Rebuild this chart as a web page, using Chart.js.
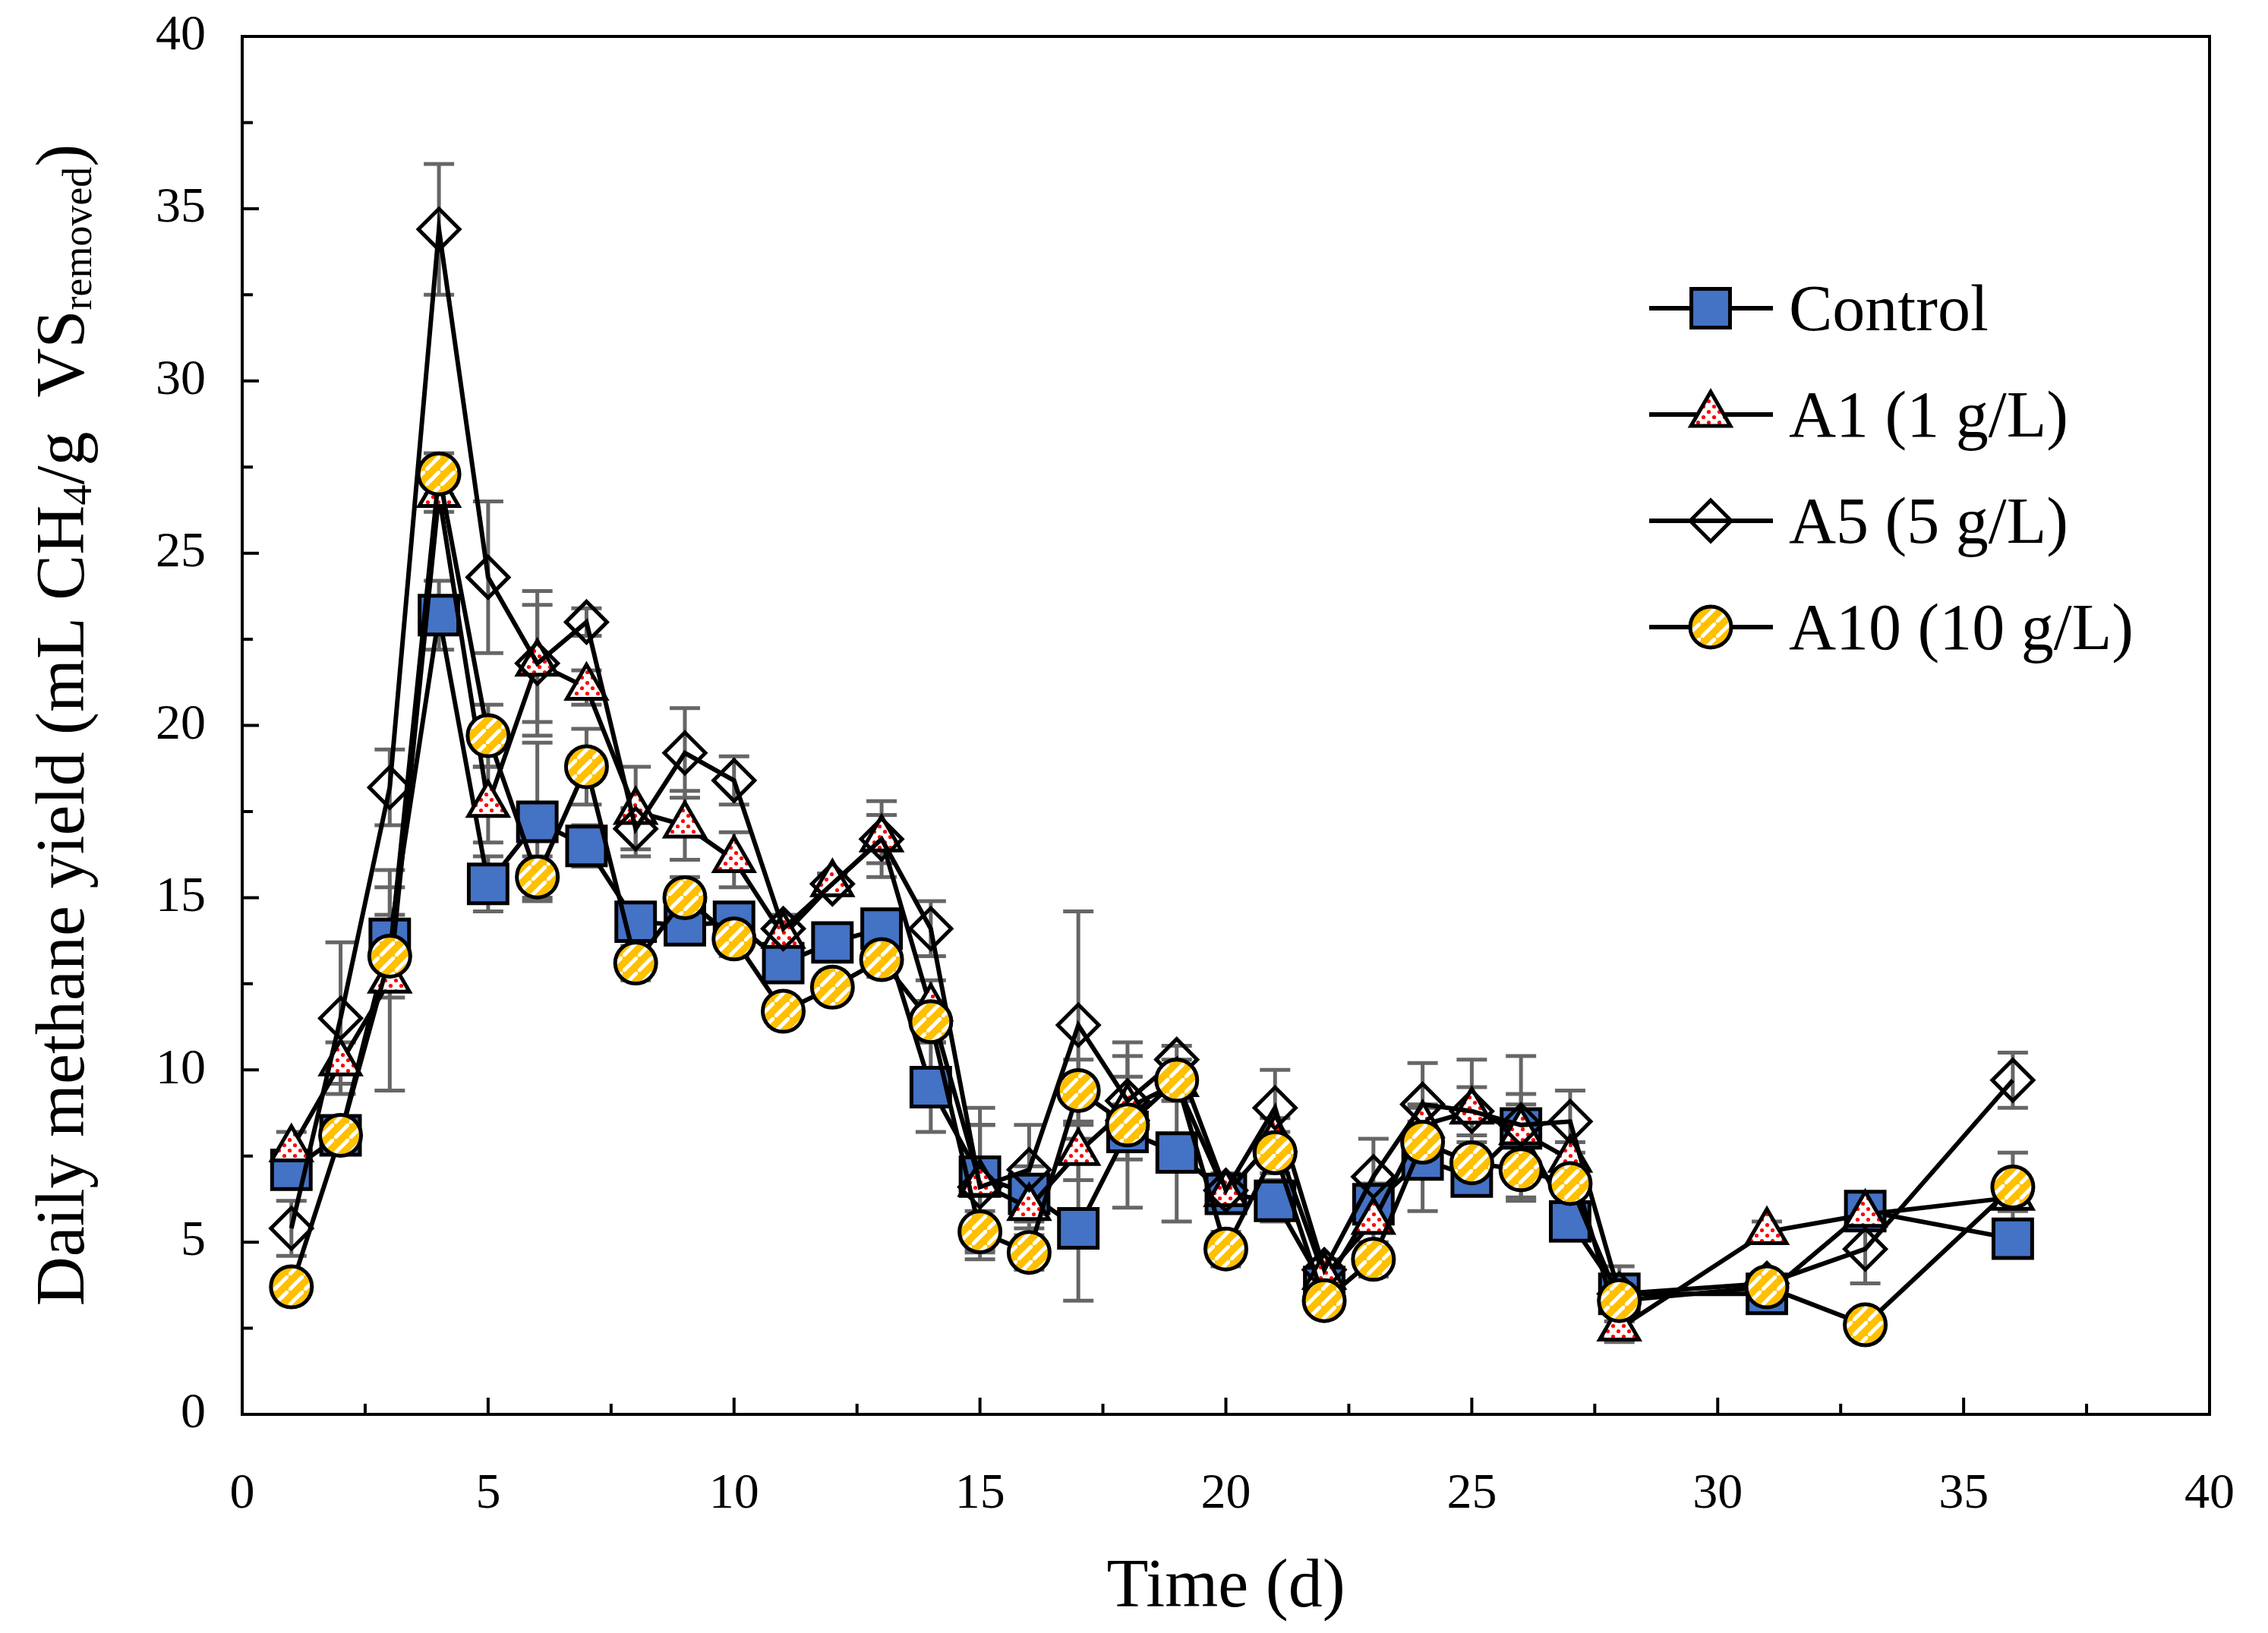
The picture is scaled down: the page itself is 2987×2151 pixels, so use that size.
<!DOCTYPE html>
<html lang="en">
<head>
  <meta charset="UTF-8">
  <title>Daily methane yield</title>
  <script src="https://cdn.jsdelivr.net/npm/chart.js"></script>
  <style>
    html, body { margin: 0; padding: 0; background: #fff; }
    canvas { display: block; }
  </style>
</head>
<body>
  <canvas id="yieldChart" width="2987" height="2151"></canvas>
  <script>
    // Time points (d)
    const days = [1, 2, 3, 4, 5, 6, 7, 8, 9, 10, 11, 12, 13, 14, 15, 16, 17, 18, 19, 20,
                  21, 22, 23, 24, 25, 26, 27, 28, 31, 33, 36];

    // Daily methane yield, mL CH4/g VS removed
    const control = [7.1, 8.1, 13.8, 23.2, 15.4, 17.2, 16.5, 14.3, 14.2, 14.3, 13.1, 13.7, 14.1, 9.5, 6.9, 6.4,
                     5.4, 8.2, 7.6, 6.4, 6.2, 3.7, 6.1, 7.4, 6.9, 8.3, 5.6, 3.5, 3.5, 5.9, 5.1];
    const a1 = [7.7, 10.2, 12.6, 26.7, 17.7, 21.8, 21.1, 17.5, 17.1, 16.1, 13.9, 15.4, 16.7, 11.8, 6.7, 6.0,
                7.6, 8.9, 9.6, 6.4, 8.0, 4.0, 5.6, 8.4, 8.8, 8.2, 7.4, 2.5, 5.3, 5.8, 6.3];
    const a5 = [5.4, 11.5, 18.2, 34.4, 24.3, 21.8, 23.0, 17.0, 19.2, 18.4, 14.1, 15.4, 16.7, 14.1, 6.6, 7.1,
                11.3, 9.1, 10.3, 6.5, 8.9, 4.2, 6.9, 9.0, 8.8, 8.4, 8.5, 3.5, 3.8, 4.8, 9.7];
    const a10 = [3.7, 8.1, 13.3, 27.3, 19.7, 15.6, 18.8, 13.1, 15.0, 13.8, 11.7, 12.4, 13.2, 11.4, 5.3, 4.7,
                 9.4, 8.4, 9.7, 4.8, 7.6, 3.3, 4.5, 7.9, 7.3, 7.1, 6.7, 3.3, 3.7, 2.6, 6.6];

    // Standard deviations (error bars)
    const controlErr = [0.5, 0.3, 1.5, 1.0, 0.8, 2.3, 0.6, 0.5, 0.4, 0.5, 0.4, 0.3, 0.4, 1.3, 1.5, 0.8,
                        2.1, 0.8, 2.0, 0.5, 0.6, 0.3, 0.6, 1.5, 0.5, 2.1, 0.5, 0.8, 0.3, 0.3, 0.4];
    const a1Err = [0.5, 0.6, 3.2, 0.5, 1.1, 1.7, 0.5, 1.3, 1.0, 0.8, 0.4, 0.3, 0.7, 0.8, 2.2, 0.6,
                   0.8, 0.9, 0.5, 0.5, 0.6, 0.3, 0.7, 0.6, 0.7, 0.8, 0.5, 0.4, 0.3, 0.3, 0.4];
    const a5Err = [0.8, 2.2, 1.1, 1.9, 2.2, 2.1, 0.4, 0.6, 1.3, 0.7, 0.4, 0.3, 1.1, 0.8, 1.8, 1.3,
                   3.3, 1.3, 0.4, 0.5, 1.1, 0.3, 1.1, 1.2, 1.5, 0.9, 0.9, 0.4, 0.3, 1.0, 0.8];
    const a10Err = [0.4, 0.4, 1.2, 0.6, 0.9, 0.6, 1.1, 0.5, 0.6, 0.5, 0.4, 0.4, 0.5, 0.6, 0.6, 0.5,
                    0.9, 2.4, 0.6, 0.5, 0.6, 0.3, 0.5, 0.6, 0.6, 0.8, 0.6, 0.4, 0.3, 0.3, 1.0];

    const seriesNames = ['Control', 'A1 (1 g/L)', 'A5 (5 g/L)', 'A10 (10 g/L)'];
    const xTicks = [0, 5, 10, 15, 20, 25, 30, 35, 40];
    const yTicks = [0, 5, 10, 15, 20, 25, 30, 35, 40];

    const FONT = '"Liberation Serif", "Times New Roman", serif';
    const canvas = document.getElementById('yieldChart');
    const ctx = canvas.getContext('2d');

    // fill patterns for the markers
    function dotPattern() {
      const c = document.createElement('canvas');
      c.width = 14; c.height = 14;
      const g = c.getContext('2d');
      g.fillStyle = '#ffffff';
      g.fillRect(0, 0, 14, 14);
      g.fillStyle = '#ff0000';
      [[3.5, 3.5], [10.5, 10.5]].forEach(p => {
        g.beginPath(); g.arc(p[0], p[1], 2.6, 0, Math.PI * 2); g.fill();
      });
      return ctx.createPattern(c, 'repeat');
    }
    function stripePattern() {
      const s = 20;
      const c = document.createElement('canvas');
      c.width = s; c.height = s;
      const g = c.getContext('2d');
      g.fillStyle = '#ffc000';
      g.fillRect(0, 0, s, s);
      g.strokeStyle = '#ffffff';
      g.lineWidth = 5;
      [[-s, s], [0, 0], [s, -s]].forEach(o => {
        g.beginPath();
        g.moveTo(o[0] - 2, s + o[1] + 2);
        g.lineTo(s + o[0] + 2, o[1] - 2);
        g.stroke();
      });
      return ctx.createPattern(c, 'repeat');
    }

    const toXY = vals => vals.map((v, i) => ({ x: days[i], y: v }));

    const styles = [
      { pointStyle: 'rect', radius: 36, fill: '#4472c4' },
      { pointStyle: 'triangle', radius: 30, fill: dotPattern() },
      { pointStyle: 'rectRot', radius: 27, fill: 'rgba(0,0,0,0)' },
      { pointStyle: 'circle', radius: 27, fill: stripePattern() }
    ];
    const values = [control, a1, a5, a10];
    const errors = [controlErr, a1Err, a5Err, a10Err];

    // error bars, drawn below lines and markers
    const errorBars = {
      id: 'errorBars',
      beforeDatasetsDraw(chart) {
        const c = chart.ctx;
        const ys = chart.scales.y;
        c.save();
        c.strokeStyle = '#666666';
        c.lineWidth = 5;
        errors.forEach((errs, di) => {
          const meta = chart.getDatasetMeta(di);
          meta.data.forEach((pt, j) => {
            const v = values[di][j], e = errs[j];
            const top = ys.getPixelForValue(v + e);
            const bot = ys.getPixelForValue(v - e);
            c.beginPath();
            c.moveTo(pt.x, top); c.lineTo(pt.x, bot);
            c.moveTo(pt.x - 20, top); c.lineTo(pt.x + 20, top);
            c.moveTo(pt.x - 20, bot); c.lineTo(pt.x + 20, bot);
            c.stroke();
          });
        });
        c.restore();
      }
    };

    // frame, inward ticks, axis titles and legend
    const decorations = {
      id: 'decorations',
      afterDraw(chart) {
        const c = chart.ctx;
        const a = chart.chartArea;
        const xs = chart.scales.x, ys = chart.scales.y;
        c.save();
        c.strokeStyle = '#000';
        c.lineWidth = 4;
        c.strokeRect(a.left, a.top, a.right - a.left, a.bottom - a.top);

        c.beginPath();
        for (let v = 0; v <= 40; v += 2.5) {
          const len = v % 5 === 0 ? 22 : 14;
          const px = xs.getPixelForValue(v);
          c.moveTo(px, a.bottom); c.lineTo(px, a.bottom - len);
          const py = ys.getPixelForValue(v);
          c.moveTo(a.left, py); c.lineTo(a.left + len, py);
        }
        c.stroke();

        // x title
        c.fillStyle = '#000';
        c.font = '90px ' + FONT;
        c.textAlign = 'center';
        c.textBaseline = 'alphabetic';
        c.fillText('Time (d)', (a.left + a.right) / 2, 2116);

        // y title with subscripts
        const parts = [
          ['Daily methane yield (mL CH', false], ['4', true], ['/g  VS', false],
          ['removed', true], [')', false]
        ];
        const big = '90px ' + FONT, small = '54px ' + FONT;
        let total = 0;
        parts.forEach(p => { c.font = p[1] ? small : big; total += c.measureText(p[0]).width; });
        c.translate(80, 955);
        c.rotate(-Math.PI / 2);
        c.textAlign = 'left';
        let x = -total / 2;
        parts.forEach(p => {
          c.font = p[1] ? small : big;
          c.fillText(p[0], x, p[1] ? 40 : 30);
          x += c.measureText(p[0]).width;
        });
        c.restore();

        // legend
        c.save();
        const rows = [406, 546, 686, 826];
        seriesNames.forEach((name, i) => {
          const y = rows[i];
          c.strokeStyle = '#000';
          c.lineWidth = 6;
          c.beginPath(); c.moveTo(2172, y); c.lineTo(2335, y); c.stroke();
          c.fillStyle = styles[i].fill;
          c.lineWidth = 5;
          Chart.helpers.drawPoint(c, {
            pointStyle: styles[i].pointStyle, radius: styles[i].radius,
            rotation: 0, borderWidth: 5
          }, 2253, y);
          c.fillStyle = '#000';
          c.font = '86px ' + FONT;
          c.textAlign = 'left';
          c.textBaseline = 'alphabetic';
          c.fillText(name, 2356, y + 29);
        });
        c.restore();
      }
    };

    new Chart(ctx, {
      type: 'line',
      data: {
        datasets: values.map((vals, i) => ({
          label: seriesNames[i],
          data: toXY(vals),
          borderColor: '#000000',
          borderWidth: 6,
          tension: 0,
          fill: false,
          pointStyle: styles[i].pointStyle,
          pointRadius: styles[i].radius,
          pointHoverRadius: styles[i].radius,
          pointBackgroundColor: styles[i].fill,
          pointBorderColor: '#000000',
          pointBorderWidth: 5,
          order: 4 - i
        }))
      },
      options: {
        responsive: false,
        animation: false,
        devicePixelRatio: 1,
        layout: { padding: { top: 48, right: 77, left: 0, bottom: 0 } },
        plugins: {
          legend: { display: false },
          tooltip: { enabled: false }
        },
        scales: {
          x: {
            type: 'linear',
            min: 0, max: 40,
            afterFit: s => { s.height = 288; s.paddingLeft = 0; s.paddingRight = 0; },
            afterBuildTicks: s => { s.ticks = xTicks.map(v => ({ value: v })); },
            grid: { display: false },
            border: { display: false },
            ticks: {
              color: '#000',
              padding: 58,
              maxRotation: 0,
              font: { family: FONT, size: 66 }
            }
          },
          y: {
            min: 0, max: 40,
            afterFit: s => { s.width = 319; s.paddingTop = 0; s.paddingBottom = 0; },
            afterBuildTicks: s => { s.ticks = yTicks.map(v => ({ value: v })); },
            grid: { display: false },
            border: { display: false },
            ticks: {
              color: '#000',
              padding: 40,
              font: { family: FONT, size: 66 }
            }
          }
        }
      },
      plugins: [errorBars, decorations]
    });
  </script>
</body>
</html>
